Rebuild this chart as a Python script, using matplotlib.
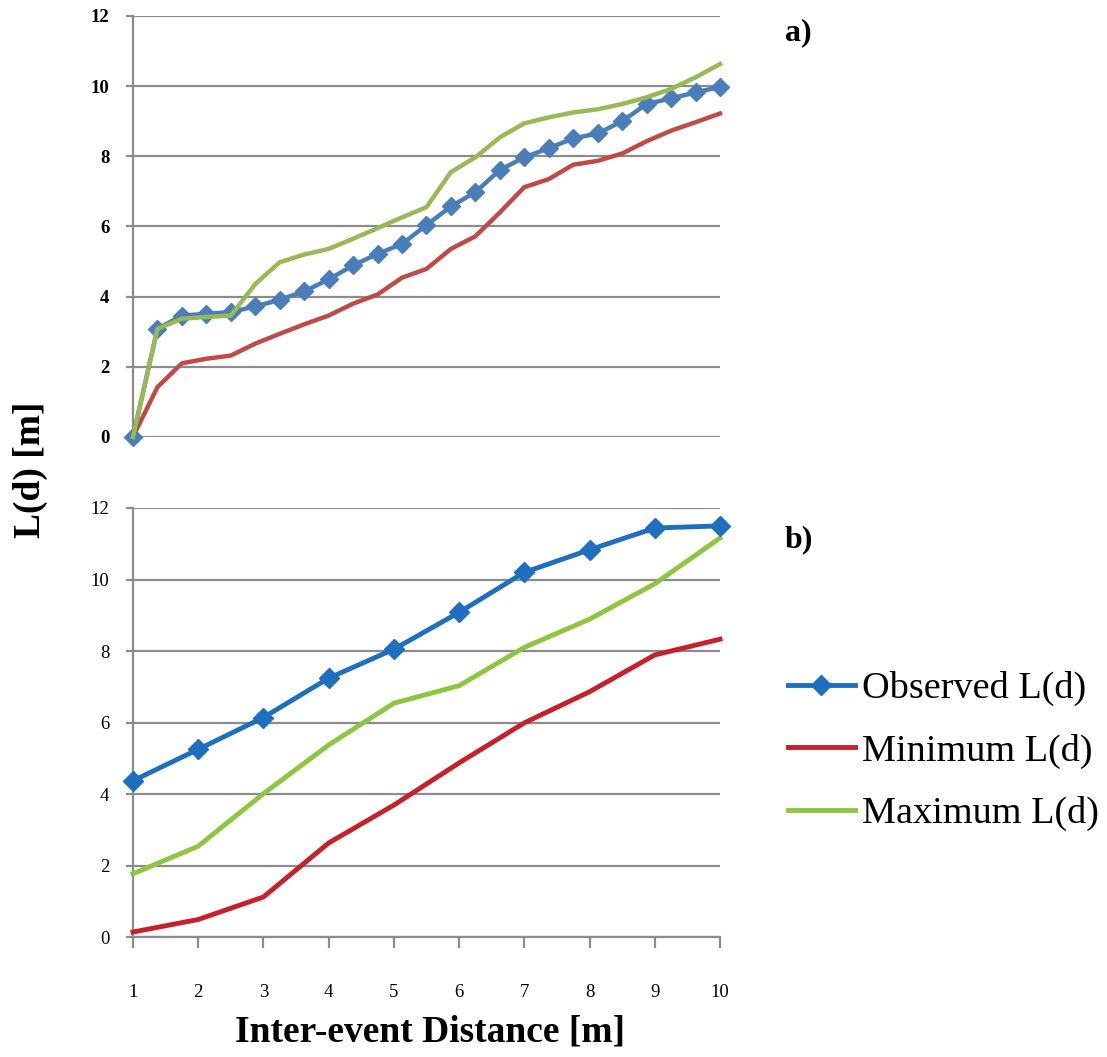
import matplotlib.pyplot as plt

plt.rcParams["font.family"] = ["Liberation Serif", "DejaVu Serif"]

# panel a) : 25 distance steps, no tick labels on x
step_a = list(range(25))
observed_a = [0, 3.08, 3.46, 3.51, 3.56, 3.72, 3.91, 4.15, 4.49, 4.89, 5.22, 5.50, 6.04,
              6.57, 6.98, 7.61, 7.97, 8.23, 8.51, 8.65, 9.00, 9.49, 9.65, 9.82, 9.98]
minimum_a = [0, 1.42, 2.10, 2.23, 2.32, 2.66, 2.94, 3.21, 3.46, 3.80, 4.06, 4.54, 4.79,
             5.36, 5.72, 6.40, 7.12, 7.35, 7.76, 7.87, 8.08, 8.43, 8.73, 8.97, 9.22]
maximum_a = [0, 3.08, 3.37, 3.42, 3.46, 4.36, 4.98, 5.20, 5.36, 5.65, 5.95, 6.26, 6.55,
             7.55, 7.97, 8.54, 8.94, 9.11, 9.25, 9.34, 9.49, 9.68, 9.92, 10.25, 10.63]

# panel b)
dist_b = [1, 2, 3, 4, 5, 6, 7, 8, 9, 10]
observed_b = [4.37, 5.25, 6.14, 7.24, 8.05, 9.08, 10.20, 10.83, 11.44, 11.50]
minimum_b = [0.14, 0.49, 1.12, 2.63, 3.69, 4.87, 5.99, 6.86, 7.89, 8.33]
maximum_b = [1.77, 2.54, 4.01, 5.37, 6.54, 7.03, 8.10, 8.89, 9.88, 11.16]

yticks = [0, 2, 4, 6, 8, 10, 12]
grid_col = "#8c8c8c"

fig = plt.figure(figsize=(11.07, 10.57), dpi=100)
ax_a = fig.add_axes([0.1201, 0.5866, 0.5303, 0.3983])
ax_b = fig.add_axes([0.1201, 0.1135, 0.5303, 0.4059])


def style(ax):
    ax.set_ylim(0, 12)
    ax.set_yticks(yticks)
    ax.yaxis.grid(True, color=grid_col, linewidth=1.6)
    ax.set_axisbelow(True)
    for s in ["top", "right"]:
        ax.spines[s].set_visible(False)
    ax.spines["left"].set_color(grid_col)
    ax.spines["left"].set_linewidth(1.6)
    ax.tick_params(axis="y", color=grid_col, length=5, width=1.6, pad=12)


# --- a)
style(ax_a)
ax_a.set_xlim(0, 24)
ax_a.spines["bottom"].set_visible(False)
ax_a.set_xticks([])
ax_a.plot(step_a, minimum_a, color="#be4b48", lw=3.2, clip_on=False, zorder=3)
ax_a.plot(step_a, observed_a, color="#4a7ebb", lw=3.2, marker="D", ms=9.5,
          clip_on=False, zorder=4)
ax_a.plot(step_a, maximum_a, color="#98b954", lw=3.2, clip_on=False, zorder=5)
for lab in ax_a.get_yticklabels():
    lab.set_fontweight("bold")
    lab.set_fontsize(13.5)

# --- b)
style(ax_b)
ax_b.set_xlim(1, 10)
ax_b.set_xticks(dist_b)
ax_b.spines["bottom"].set_color(grid_col)
ax_b.spines["bottom"].set_linewidth(1.6)
ax_b.tick_params(axis="x", color=grid_col, length=8, width=1.6, pad=26, labelsize=13.5)
ax_b.tick_params(axis="y", labelsize=13.5)
l1, = ax_b.plot(dist_b, observed_b, color="#1f6fbf", lw=3.5, marker="D", ms=10,
                clip_on=False, zorder=4, label="Observed L(d)")
l2, = ax_b.plot(dist_b, minimum_b, color="#c4212b", lw=3.5, clip_on=False,
                zorder=3, label="Minimum L(d)")
l3, = ax_b.plot(dist_b, maximum_b, color="#8dc641", lw=3.5, clip_on=False,
                zorder=3, label="Maximum L(d)")

fig.text(785 / 1107, 1 - 33 / 1057, "a)", fontsize=23, fontweight="bold", va="center")
fig.text(785 / 1107, 1 - 540 / 1057, "b)", fontsize=23, fontweight="bold", va="center")
fig.text(30 / 1107, 1 - 470 / 1057, "L(d) [m]", fontsize=27, fontweight="bold",
         rotation=90, ha="center", va="center")
fig.text(430 / 1107, 1 - 1032 / 1057, "Inter-event Distance [m]", fontsize=27,
         fontweight="bold", ha="center", va="center")

fig.legend(handles=[l1, l2, l3], loc="upper left",
           bbox_to_anchor=(788 / 1107, 1 - 671 / 1057), frameon=False,
           fontsize=27.5, handlelength=1.75, handletextpad=0.2, labelspacing=0.72,
           borderpad=0, borderaxespad=0)

fig.savefig("out.png", dpi=100)
